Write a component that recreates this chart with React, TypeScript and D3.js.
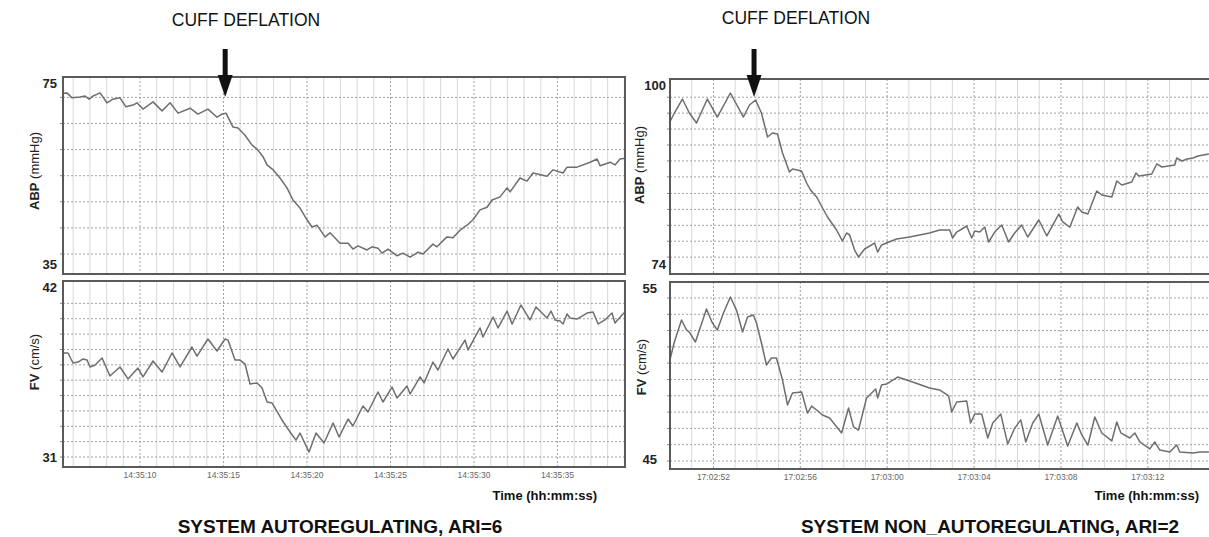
import React from "react";
import * as d3 from "d3";

// ---------- DATA (seconds after base time, values) ----------
// Left recording: base 14:35:00
const leftAbpT = [5.39,5.63,5.93,6.41,6.71,6.95,7.19,7.61,8.02,8.38,8.80,9.16,9.58,9.82,10.18,10.78,11.32,11.80,12.28,13.00,13.47,14.07,14.61,14.91,15.15,15.57,15.87,16.29,16.71,17.01,17.37,17.61,17.97,18.38,18.80,19.16,19.58,20.00,20.30,20.60,21.08,21.38,21.98,22.46,22.75,23.05,23.59,23.89,24.25,24.49,24.85,25.39,25.75,26.17,26.65,26.95,27.54,27.78,28.38,28.74,29.16,29.58,29.94,30.36,30.78,31.08,31.56,31.98,32.16,32.75,33.17,33.53,34.37,34.73,35.33,35.57,36.17,36.95,37.37,37.55,38.15,38.44,38.74,39.04];
const leftAbpV = [72.7,72.8,71.7,71.9,72.1,71.4,72.1,72.8,70.6,71.4,71.7,69.7,70.1,70.6,69.2,70.8,68.8,70.6,68.3,69.4,68.1,69.2,67.4,68.1,68.3,65.2,65.0,63.4,61.2,60.3,58.6,56.8,55.7,53.9,51.7,49.0,47.2,44.6,43.0,43.4,40.8,41.7,39.4,39.4,38.1,38.8,37.9,38.6,38.3,37.2,38.1,36.6,37.2,36.3,37.4,37.0,39.2,38.6,40.8,40.6,42.3,43.4,44.6,46.8,47.4,49.0,49.7,51.7,50.8,53.9,53.2,55.0,54.3,55.7,55.0,56.3,56.3,57.4,58.1,56.6,57.4,56.8,58.1,58.3];

const leftFvT = [5.39,5.69,5.99,6.29,6.59,6.83,7.01,7.31,7.73,8.20,8.80,9.28,9.88,10.18,10.78,11.32,11.92,12.40,13.11,13.41,14.07,14.61,15.09,15.27,15.69,15.99,16.29,16.59,17.01,17.31,17.61,17.91,18.50,18.98,19.34,19.58,20.12,20.54,21.02,21.56,21.92,22.46,22.75,23.35,23.65,24.25,24.55,25.09,25.39,25.99,26.17,26.77,27.01,27.54,27.84,28.44,28.74,29.46,29.64,30.36,30.54,31.14,31.44,31.98,32.28,32.81,33.35,33.71,34.37,34.61,34.85,35.15,35.33,35.57,35.75,36.17,36.77,37.13,37.43,37.84,38.26,38.44,38.86,39.04];
const leftFvV = [37.77,37.77,37.12,37.18,37.38,37.31,36.86,36.99,37.44,36.27,36.86,36.08,36.79,36.21,37.25,36.53,37.77,36.86,38.16,37.57,38.68,37.90,38.68,38.61,37.31,37.31,37.05,35.75,35.82,35.49,34.58,34.51,33.41,32.63,32.10,32.56,31.32,32.56,31.91,33.21,32.30,33.47,33.02,34.32,33.93,35.23,34.58,35.55,34.84,35.62,35.10,36.21,35.82,37.18,36.66,38.03,37.38,38.61,37.96,39.40,38.81,40.11,39.40,40.50,39.66,40.89,39.92,40.76,40.05,40.50,39.92,39.85,39.66,40.31,40.05,39.98,40.37,40.44,39.66,39.92,40.37,39.72,40.24,40.44];

// Right recording: base 17:02:00
const rightAbpT = [49.97,50.20,50.57,50.89,51.22,51.72,52.18,52.78,53.38,53.66,53.94,54.21,54.49,54.72,54.95,55.18,55.50,55.64,56.06,56.29,56.47,56.75,57.25,57.67,57.94,58.13,58.27,58.50,58.68,58.96,59.42,59.56,59.74,60.43,61.03,61.49,61.95,62.41,62.88,63.01,63.20,63.66,63.89,64.03,64.26,64.49,64.67,64.95,65.27,65.59,65.87,66.19,66.47,66.98,67.35,67.90,68.08,68.41,68.77,68.96,69.24,69.65,69.88,70.34,70.57,70.80,71.26,71.45,71.59,72.18,72.41,72.65,73.24,73.33,73.57,73.81,74.08,74.31,74.81];
const rightAbpV = [94.08,95.52,97.54,95.52,94.08,97.54,94.94,98.41,94.94,96.68,97.40,95.52,92.06,92.63,92.49,89.74,87.00,87.43,87.14,85.41,84.40,83.39,80.50,78.62,77.03,78.19,77.90,75.73,74.72,75.88,76.74,75.44,76.46,77.32,77.61,77.90,78.19,78.62,78.62,77.47,78.33,79.20,77.47,78.48,78.33,79.05,76.89,78.33,79.34,76.89,78.19,79.34,77.61,80.07,77.76,80.93,79.78,79.05,81.94,81.22,80.93,84.26,83.68,83.39,85.70,85.12,85.56,86.86,86.42,86.71,88.16,87.72,88.01,89.02,88.59,88.88,89.02,89.31,89.60];

const rightFvT = [49.97,50.20,50.53,50.76,50.89,51.17,51.68,51.95,52.18,52.46,52.78,53.06,53.34,53.57,53.84,53.98,54.21,54.44,54.67,54.90,55.18,55.41,55.64,56.06,56.33,56.52,56.75,57.02,57.35,57.90,58.22,58.45,58.68,59.05,59.47,59.56,59.74,59.97,60.48,61.17,61.95,62.41,62.83,62.97,63.20,63.66,63.84,64.03,64.35,64.63,64.86,65.23,65.55,65.87,66.15,66.38,66.70,66.98,67.39,67.85,68.31,68.73,68.96,69.24,69.56,69.88,70.34,70.57,70.76,71.17,71.40,71.63,72.09,72.32,72.55,73.01,73.33,73.47,74.07,74.40,74.81];
const rightFvV = [51.07,52.30,53.65,53.04,52.91,52.30,54.33,53.47,53.04,54.08,55.06,54.26,52.91,53.83,53.96,53.47,52.24,50.89,51.32,51.32,49.97,48.44,49.17,49.23,47.94,48.37,48.13,47.82,47.64,46.72,48.25,47.09,46.90,48.87,49.42,48.87,49.66,49.72,50.15,49.85,49.48,49.36,48.99,48.01,48.62,48.68,47.33,47.88,47.88,46.41,47.33,47.88,46.04,47.02,47.52,46.17,47.33,47.88,45.98,47.76,45.92,47.33,46.60,45.98,47.70,46.72,46.23,47.39,46.72,46.41,46.72,46.17,45.74,46.17,45.67,45.55,45.98,45.55,45.49,45.55,45.55];

// axis labels / ticks
const leftTicks = [10, 15, 20, 25, 30, 35];
const rightTicks = [52, 56, 60, 64, 68, 72];
const leftAbpLabels = [75, 35];
const leftFvLabels = [42, 31];
const rightAbpLabels = [100, 74];
const rightFvLabels = [55, 45];
const leftAbpGrid = [37, 42.8, 48.6, 54.4, 60.2, 66.0, 71.8];
const rightAbpGrid = [74.7, 77.0, 79.3, 81.6, 83.9, 86.3, 88.6, 90.9, 93.2, 95.5, 97.8];
const leftFvGrid = [31, 32, 33, 34, 35, 36, 37, 38, 39, 40, 41];
const rightFvGrid = [45, 46, 47, 48, 49, 50, 51, 52, 53, 54, 55];
const cuffTimes = [15.1, 53.87];
const titles = ["SYSTEM AUTOREGULATING, ARI=6", "SYSTEM NON_AUTOREGULATING, ARI=2"];

const FONT = "'Liberation Sans', Arial, Helvetica, sans-serif";

const makeFmt = (h: number, m: number) => {
  const f = d3.timeFormat("%H:%M:%S");
  return (s: number) => f(new Date(2000, 0, 1, h, m, 0, 0 + s * 1000));
};

type PanelProps = {
  x: d3.ScaleLinear<number, number>;
  y: d3.ScaleLinear<number, number>;
  top: number;
  bottom: number;
  t: number[];
  v: number[];
  grid: number[];
  ticks: number[];
  labels: number[];
  labelRight: number;
};

function Panel({ x, y, top, bottom, t, v, grid, ticks, labels, labelRight }: PanelProps) {
  const [x0, x1] = x.range();
  const [d0, d1] = x.domain();
  const secs = d3.range(Math.ceil(d0), Math.floor(d1) + 1);
  const pts = t.map((tt, i) => [tt, v[i]] as [number, number]);
  const line = d3
    .line<[number, number]>()
    .x((d) => x(d[0]))
    .y((d) => y(d[1]))
    .curve(d3.curveLinear);
  const right = Math.min(x1, 1240);
  return (
    <g>
      <rect x={x0} y={top} width={right - x0} height={bottom - top} fill="#fff" />
      {secs.map((s) => {
        const isTick = ticks.includes(s);
        return (
          <line
            key={"v" + s}
            x1={x(s)}
            x2={x(s)}
            y1={top}
            y2={bottom}
            stroke={isTick ? "#a0a0a0" : "#d8d8d8"}
            strokeWidth={1}
            strokeDasharray={isTick ? "2,2" : undefined}
          />
        );
      })}
      {grid.map((g) => (
        <g key={"h" + g}>
          <line x1={x0} x2={right} y1={y(g)} y2={y(g)} stroke="#a2a2a2" strokeWidth={1} strokeDasharray="2,2" />
          <line x1={x0 - 3} x2={x0} y1={y(g)} y2={y(g)} stroke="#888" strokeWidth={1} />
        </g>
      ))}
      <path d={line(pts) || ""} fill="none" stroke="#6e6e6e" strokeWidth={1.5} strokeLinejoin="round" />
      <rect x={x0} y={top} width={right - x0} height={bottom - top} fill="none" stroke="#5a5a5a" strokeWidth={2} />
      <text x={labelRight} y={top + 6} dy="0.35em" textAnchor="end" fontFamily={FONT} fontWeight="bold" fontSize={13} fill="#222">
        {labels[0]}
      </text>
      <text x={labelRight} y={bottom - 10} dy="0.35em" textAnchor="end" fontFamily={FONT} fontWeight="bold" fontSize={13} fill="#222">
        {labels[1]}
      </text>
    </g>
  );
}

function Arrow({ cx }: { cx: number }) {
  return (
    <g>
      <rect x={cx - 2.5} y={49} width={5} height={28} fill="#111" />
      <path d={`M${cx - 7.5},75 L${cx + 7.5},75 L${cx},97 Z`} fill="#111" />
    </g>
  );
}

function YTitle({ x, y, bold, rest }: { x: number; y: number; bold: string; rest: string }) {
  return (
    <text transform={`translate(${x},${y}) rotate(-90)`} textAnchor="middle" fontFamily={FONT} fontSize={13} fill="#222">
      <tspan fontWeight="bold">{bold}</tspan>
      <tspan>{rest}</tspan>
    </text>
  );
}

export default function App() {
  const W = 1209;
  const H = 537;

  const xL = d3.scaleLinear().domain([5.39, 39.04]).range([63, 625]);
  const yLAbp = d3.scaleLinear().domain([35, 75]).range([263, 83]);
  const yLFv = d3.scaleLinear().domain([31, 42]).range([457, 288]);

  const xR = d3.scaleLinear().domain([50, 75]).range([670, 1213]);
  const yRAbp = d3.scaleLinear().domain([74, 100]).range([262, 82]);
  const yRFv = d3.scaleLinear().domain([45, 55]).range([461, 298]);

  const fmtL = makeFmt(14, 35);
  const fmtR = makeFmt(17, 2);

  return (
    <svg width={W} height={H} style={{ position: "absolute", left: 0, top: 0, background: "#fff" }} fontFamily={FONT}>
      <rect x={0} y={0} width={W} height={H} fill="#fff" />

      {/* LEFT */}
      <text x={246} y={26} textAnchor="middle" fontSize={17.5} fill="#111">CUFF DEFLATION</text>
      <Panel x={xL} y={yLAbp} top={77} bottom={274} t={leftAbpT} v={leftAbpV} grid={leftAbpGrid} ticks={leftTicks} labels={leftAbpLabels} labelRight={57} />
      <Panel x={xL} y={yLFv} top={281} bottom={467} t={leftFvT} v={leftFvV} grid={leftFvGrid} ticks={leftTicks} labels={leftFvLabels} labelRight={57} />
      <YTitle x={39} y={171} bold="ABP" rest=" (mmHg)" />
      <YTitle x={39} y={362} bold="FV" rest=" (cm/s)" />
      {leftTicks.map((s) => (
        <text key={"lt" + s} x={xL(s)} y={478} textAnchor="middle" fontSize={8.5} fill="#666">{fmtL(s)}</text>
      ))}
      <text x={597} y={500} textAnchor="end" fontSize={13} fontWeight="bold" fill="#111">Time (hh:mm:ss)</text>
      <text x={340} y={533} textAnchor="middle" fontSize={19} fontWeight="bold" fill="#111">{titles[0]}</text>

      {/* RIGHT */}
      <text x={796} y={24} textAnchor="middle" fontSize={17.5} fill="#111">CUFF DEFLATION</text>
      <Panel x={xR} y={yRAbp} top={79} bottom={274} t={rightAbpT} v={rightAbpV} grid={rightAbpGrid} ticks={rightTicks} labels={rightAbpLabels} labelRight={666} />
      <Panel x={xR} y={yRFv} top={282} bottom={469} t={rightFvT} v={rightFvV} grid={rightFvGrid} ticks={rightTicks} labels={rightFvLabels} labelRight={657} />
      <YTitle x={644} y={165} bold="ABP" rest=" (mmHg)" />
      <YTitle x={646} y={367} bold="FV" rest=" (cm/s)" />
      {rightTicks.map((s) => (
        <text key={"rt" + s} x={xR(s)} y={480} textAnchor="middle" fontSize={8.5} fill="#666">{fmtR(s)}</text>
      ))}
      <text x={1199} y={500} textAnchor="end" fontSize={13} fontWeight="bold" fill="#111">Time (hh:mm:ss)</text>
      <text x={990} y={533} textAnchor="middle" fontSize={19} fontWeight="bold" fill="#111">{titles[1]}</text>

      {/* arrows on top */}
      <Arrow cx={xL(cuffTimes[0])} />
      <Arrow cx={xR(cuffTimes[1])} />
    </svg>
  );
}
